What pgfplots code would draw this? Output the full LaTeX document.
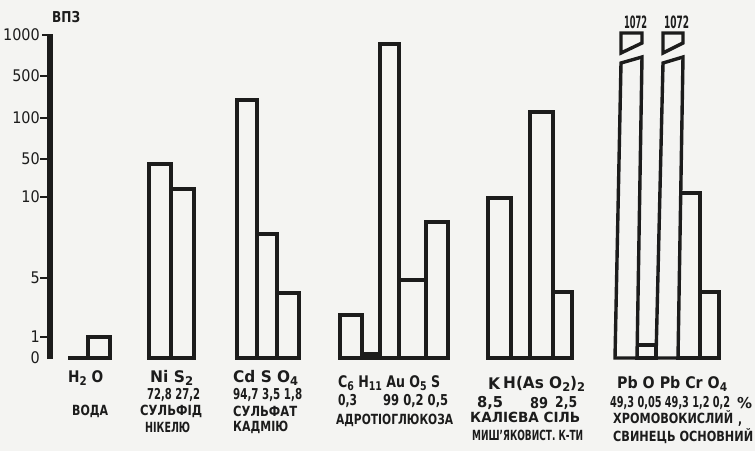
\documentclass[border=0pt]{standalone}
\usepackage{pgfplots}
\pgfplotsset{compat=1.18}
\usepackage{pgfplotstable}
\usepackage{graphicx}
\usepackage{fontspec}
\setmainfont{DejaVu Sans Condensed}
\definecolor{ink}{HTML}{1C1C1C}
\definecolor{bg}{HTML}{F4F4F2}
\newcommand{\sub}[1]{\raisebox{-2.5pt}{\fontsize{12}{12}\selectfont #1}}
\newcommand{\fw}[2]{\resizebox{#1pt}{\height}{#2}}
\newcommand{\lbl}[5]{\node[anchor=west,inner sep=0pt,text=ink,font=\fontsize{#4}{#4}\selectfont\bfseries] at (axis cs:#1,#2) {\fw{#3}{#5}};}
\newcommand{\ytl}[2]{\node[anchor=east,inner sep=0pt,text=ink,font=\fontsize{16}{16}\selectfont] at (axis cs:40,#1) {#2};}
% bar tables: x = left edge of bar, h = height on the chart's (nonlinear) scale
\pgfplotstableread{
x h
68 0
88 21
110 0
}\water
\pgfplotstableread{
x h
149 194
171 169
194 0
}\nis
\pgfplotstableread{
x h
237 258
257 124
277 65
299 0
}\cds
\pgfplotstableread{
x h
340 43
362 4
380 314
399 78
426 136
448 0
}\adr
\pgfplotstableread{
x h
488 160
511 0
530 246
553 66
572 0
}\kas
\pgfplotstableread{
x h
637 13
656 0
}\pbo
\pgfplotstableread{
x h
678 165
700 66
719 0
}\pbcr
\begin{document}
\begin{tikzpicture}
% paper background (axis cs (0,-93) sits at tikz (0,0))
\fill[bg] (0pt,0pt) rectangle (755pt,451pt);
\begin{axis}[
  x=1pt, y=1pt,
  xmin=0, xmax=755, ymin=-93, ymax=358,
  clip=false,
  hide axis,
  barst/.style={draw=ink, fill=bg, line width=3.4pt, line join=miter, mark=none},
  tk/.style={draw=ink, line width=2.4pt, mark=none},
]
% y scale: thick axis line and tick dashes (positions of 0,1,5,10,50,100,500,1000)
\addplot[draw=ink, line width=5.5pt, mark=none] coordinates {(50,-1) (50,324)};
\addplot[tk] coordinates {(40,21) (50,21)};
\addplot[tk] coordinates {(40,80) (50,80)};
\addplot[tk] coordinates {(40,161) (50,161)};
\addplot[tk] coordinates {(40,199) (50,199)};
\addplot[tk] coordinates {(40,240) (50,240)};
\addplot[tk] coordinates {(40,282) (50,282)};
\addplot[tk] coordinates {(42,322.8) (50,322.8)};
\ytl{0}{0}
\ytl{21}{1}
\ytl{80}{5}
\ytl{161}{10}
\ytl{199}{50}
\ytl{240}{100}
\ytl{282}{500}
\ytl{323}{1000}
\addplot[barst, ybar interval] table {\water};
\addplot[barst, ybar interval] table {\nis};
\addplot[barst, ybar interval] table {\cds};
\addplot[barst, ybar interval] table {\adr};
\addplot[barst, ybar interval] table {\kas};
\addplot[barst, ybar interval] table {\pbo};
\addplot[barst, ybar interval] table {\pbcr};
% broken Pb bars (value 1072)
\addplot[barst] coordinates {(615,0) (621,295) (642,301) (637,0)} --cycle;
\addplot[barst] coordinates {(621,305) (621,325) (642,325) (642,315)} --cycle;
\addplot[barst] coordinates {(656,0) (663,295) (683,301) (678,0)} --cycle;
\addplot[barst] coordinates {(663,305) (663,325) (683,325) (683,315)} --cycle;
% labels
\lbl{52}{341}{28}{15}{ВПЗ}
\lbl{624}{336}{23}{17}{1072}
\lbl{664}{336}{25}{17}{1072}
% water
\lbl{68}{-20}{35}{16}{H\sub{2} O}
\lbl{72}{-53}{36}{14}{ВОДА}
% NiS2
\lbl{150}{-20}{43}{16}{Ni S\sub{2}}
\lbl{147}{-37}{53}{15}{72,8 27,2}
\lbl{140}{-53}{62}{14}{СУЛЬФІД}
\lbl{145}{-69}{45}{14}{НІКЕЛЮ}
% CdSO4
\lbl{233}{-20}{65}{16}{Cd S O\sub{4}}
\lbl{233}{-37}{69}{15}{94,7 3,5 1,8}
\lbl{233}{-53}{64}{14}{СУЛЬФАТ}
\lbl{233}{-69}{55}{14}{КАДМІЮ}
% aurothioglucose
\lbl{338}{-25}{102}{16}{C\sub{6} H\sub{11} Au O\sub{5} S}
\lbl{338}{-43}{19}{15}{0,3}
\lbl{383}{-43}{65}{15}{99 0,2 0,5}
\lbl{336}{-62}{117}{14}{АДРОТІОГЛЮКОЗА}
% K H(AsO2)2
\lbl{488}{-26}{12}{16}{K}
\lbl{503}{-26}{82}{16}{H(As O\sub{2})\sub{2}}
\lbl{477}{-45}{26}{15}{8,5}
\lbl{530}{-45}{18}{15}{89}
\lbl{555}{-45}{22}{15}{2,5}
\lbl{470}{-59}{110}{14}{КАЛІЄВА СІЛЬ}
\lbl{472}{-77}{111}{14}{МИШ'ЯКОВИСТ. К-ТИ}
% PbO PbCrO4
\lbl{617}{-26}{110}{16}{Pb O Pb Cr O\sub{4}}
\lbl{610}{-45}{120}{15}{49,3 0,05 49,3 1,2 0,2}
\lbl{737}{-45}{15}{15}{\%}
\lbl{613}{-59}{120}{14}{ХРОМОВОКИСЛИЙ}
\lbl{738}{-66}{4}{14}{,}
\lbl{613}{-78}{140}{14}{СВИНЕЦЬ ОСНОВНИЙ}
\end{axis}
\end{tikzpicture}
\end{document}
